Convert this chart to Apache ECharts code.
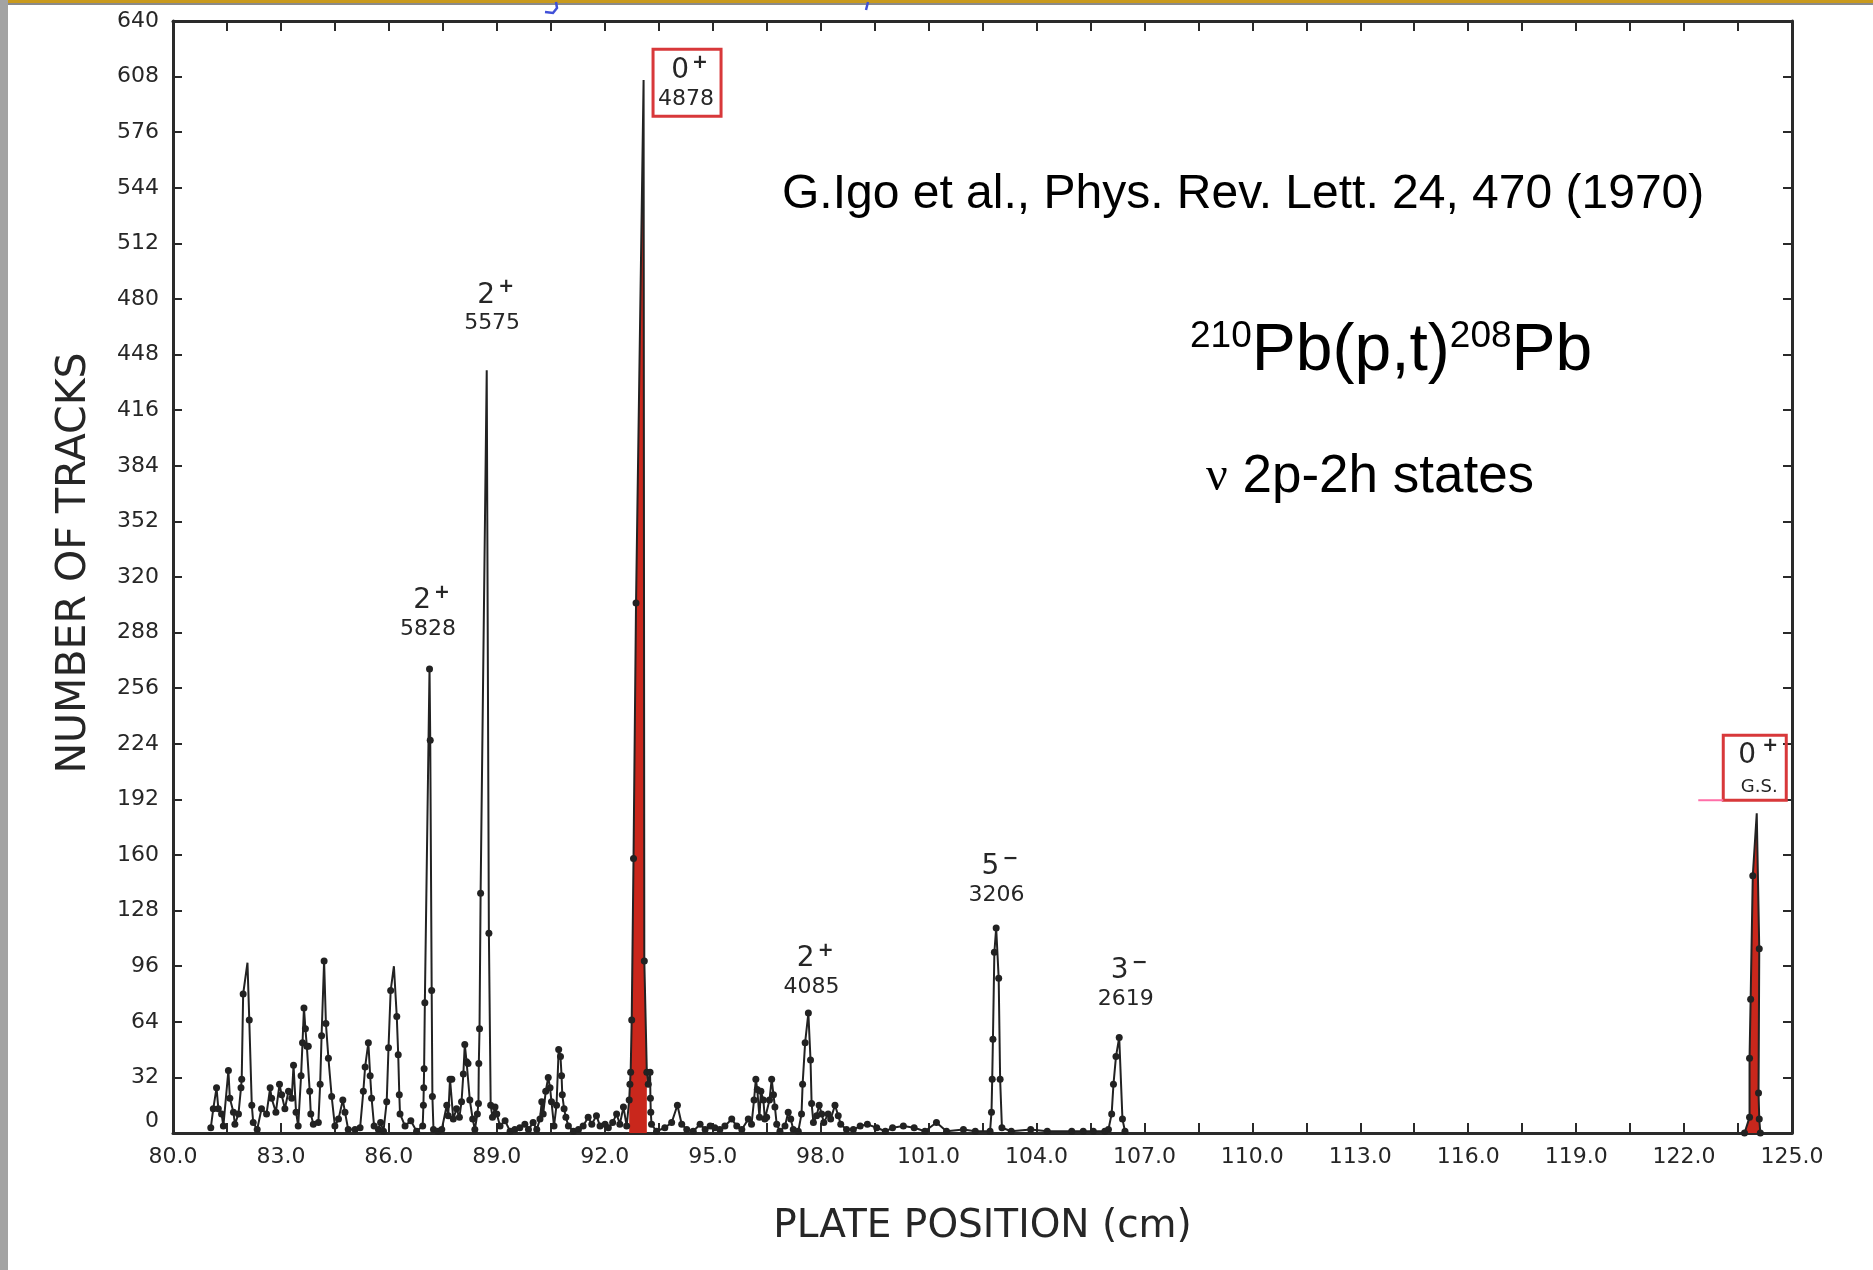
<!DOCTYPE html>
<html>
<head>
<meta charset="utf-8">
<script src="https://cdn.jsdelivr.net/npm/echarts@6/dist/echarts.min.js"></script>
<style>
  html, body { margin: 0; padding: 0; background: #ffffff; }
  #chart { width: 1873px; height: 1270px; }
</style>
</head>
<body>
<div id="chart"></div>
<script>
// Track counts along the plate: main run from 81 cm to the 2619 keV group
const plateCm = [
  81.05, 81.12, 81.21, 81.26, 81.35, 81.40, 81.54, 81.58, 81.68, 81.72,
  81.82, 81.89, 81.91, 81.95, 82.07, 82.12, 82.19, 82.23, 82.34, 82.46,
  82.60, 82.70, 82.74, 82.86, 82.96, 83.02, 83.11, 83.21, 83.30, 83.35,
  83.42, 83.48, 83.56, 83.60, 83.64, 83.68, 83.72, 83.76, 83.80, 83.83,
  83.90, 84.04, 84.09, 84.13, 84.20, 84.25, 84.32, 84.41, 84.50, 84.60,
  84.72, 84.78, 84.87, 85.06, 85.20, 85.29, 85.34, 85.43, 85.48, 85.52,
  85.59, 85.71, 85.77, 85.85, 85.94, 85.99, 86.05, 86.14, 86.22, 86.26,
  86.29, 86.31, 86.45, 86.61, 86.77, 86.94, 86.96, 86.97, 86.98, 87.00,
  87.13, 87.15, 87.19, 87.21, 87.24, 87.37, 87.47, 87.61, 87.65, 87.70,
  87.75, 87.79, 87.88, 87.96, 88.02, 88.07, 88.11, 88.16, 88.20, 88.25,
  88.33, 88.39, 88.46, 88.49, 88.50, 88.52, 88.55, 88.72, 88.78, 88.83,
  88.88, 88.95, 89.00, 89.09, 89.23, 89.37, 89.50, 89.64, 89.78, 89.88,
  90.01, 90.11, 90.20, 90.25, 90.29, 90.36, 90.43, 90.48, 90.52, 90.59,
  90.66, 90.72, 90.77, 90.80, 90.82, 90.87, 90.92, 90.99, 91.13, 91.27,
  91.40, 91.54, 91.64, 91.77, 91.87, 92.01, 92.10, 92.22, 92.33, 92.42,
  92.52, 92.61, 92.68, 92.70, 92.72, 92.75, 92.80, 92.87, 93.08, 93.10,
  93.17, 93.21, 93.26, 93.27, 93.28, 93.30, 93.44, 93.67, 93.86, 94.02,
  94.14, 94.28, 94.46, 94.65, 94.79, 94.93, 95.06, 95.20, 95.34, 95.53,
  95.67, 95.81, 95.99, 96.08, 96.15, 96.20, 96.24, 96.30, 96.34, 96.41,
  96.45, 96.50, 96.58, 96.64, 96.69, 96.73, 96.78, 96.87, 97.01, 97.10,
  97.17, 97.24, 97.38, 97.47, 97.50, 97.57, 97.66, 97.72, 97.75, 97.80,
  97.89, 97.96, 98.03, 98.09, 98.21, 98.28, 98.40, 98.49, 98.56, 98.72,
  98.91, 99.10, 99.30, 99.56, 99.80, 100.00, 100.30, 100.60, 100.90, 101.22,
  101.50, 101.97, 102.30, 102.71, 102.75, 102.77, 102.79, 102.83, 102.88, 102.95,
  102.99, 103.04, 103.30, 103.84, 104.30, 104.98, 105.30, 105.58, 105.90, 106.00,
  106.09, 106.14, 106.21, 106.30, 106.39, 106.46
];
const tracks = [
  3, 14, 26, 14, 11, 4, 36, 20, 12, 5,
  11, 26, 31, 80, 98, 65, 16, 6, 2, 14,
  11, 26, 20, 12, 28, 22, 14, 24, 20, 39,
  12, 4, 33, 52, 72, 60, 50, 50, 24, 11,
  5, 6, 28, 56, 99, 63, 43, 21, 4, 8,
  19, 12, 2, 2, 3, 24, 38, 52, 33, 20,
  4, 2, 6, 1, 18, 49, 82, 96, 67, 45,
  22, 11, 4, 7, 1, 4, 16, 26, 37, 75,
  267, 226, 82, 21, 2, 1, 2, 16, 10, 31,
  31, 8, 14, 9, 18, 34, 51, 41, 40, 19,
  8, 2, 11, 17, 40, 60, 138, 439, 115, 16,
  9, 15, 11, 4, 7, 1, 2, 3, 5, 2,
  6, 2, 8, 18, 11, 24, 32, 26, 18, 4,
  16, 48, 44, 33, 22, 14, 9, 4, 1, 2,
  4, 9, 5, 10, 4, 5, 3, 6, 11, 5,
  15, 4, 19, 28, 35, 65, 158, 305, 606, 99,
  35, 28, 35, 20, 12, 5, 1, 3, 6, 16,
  5, 2, 1, 5, 2, 4, 3, 2, 4, 8,
  4, 2, 8, 5, 19, 31, 25, 9, 24, 19,
  8, 9, 19, 31, 22, 15, 5, 1, 4, 12,
  8, 2, 1, 11, 28, 52, 69, 42, 17, 6,
  10, 16, 11, 6, 11, 8, 16, 10, 5, 2,
  2, 4, 5, 3, 1, 3, 4, 3, 1, 6,
  1, 2, 1, 1, 12, 31, 54, 104, 118, 89,
  31, 3, 1, 2, 1, 1, 1, 1, 1, 2,
  11, 28, 44, 55, 8, 1
];
// Ground-state group near the end of the plate
const gsCm     = [123.68, 123.82, 123.82, 123.85, 123.91, 124.02, 124.09, 124.07, 124.09, 124.12];
const gsTracks = [0, 9, 43, 77, 148, 184, 106, 23, 8, 0];

// Peak tops drawn as bare line apexes (no marker)
const bareTops = [82.07, 86.14, 88.72, 93.08, 124.02];

// Range of the 4878 keV 0+ peak that is shaded
const shadedRange = [92.66, 93.20];

// Axis scales
const xMin = 80, xMax = 125, xStep = 3;
const yMin = 0, yMax = 640, yStep = 32;

// Level labels: spin/parity and excitation energy (keV), anchored at the energy text
const levelLabels = [
  { spin: '2', sign: '+',      energy: '5828', x: 87.09,  y: 290 },
  { spin: '2', sign: '+',      energy: '5575', x: 88.87,  y: 466 },
  { spin: '0', sign: '+',      energy: '4878', x: 94.26,  y: 595, boxed: true },
  { spin: '5', sign: '\u2212', energy: '3206', x: 102.89, y: 137 },
  { spin: '2', sign: '+',      energy: '4085', x: 97.75,  y: 84 },
  { spin: '3', sign: '\u2212', energy: '2619', x: 106.48, y: 77 },
  { spin: '0', sign: '+',      energy: 'G.S.', x: 124.09, y: 199, boxed: true, small: true }
];

const ink = '#222222';
const axisInk = '#2a2a2a';
const textInk = '#262626';
const figFont = 'DejaVu Sans';
const slideFont = 'Liberation Sans, Arial, sans-serif';
const highlight = '#c9271c';

function pairs(xs, ys) {
  return xs.map((x, i) => {
    const item = { value: [x, ys[i]] };
    if (bareTops.indexOf(x) >= 0) item.symbolSize = 0;
    return item;
  });
}
const mainData = pairs(plateCm, tracks);
const gsData = pairs(gsCm, gsTracks);
const shadedData = plateCm
  .map((x, i) => [x, tracks[i]])
  .filter(p => p[0] >= shadedRange[0] && p[0] <= shadedRange[1]);
const gsShaded = gsCm.map((x, i) => [x, gsTracks[i]]);

const chart = echarts.init(document.getElementById('chart'));

const frameLine = { show: true, onZero: false, lineStyle: { color: axisInk, width: 3 } };
const tickStyle = { color: axisInk, width: 2 };

const option = {
  animation: false,
  backgroundColor: '#ffffff',
  grid: { left: 173, right: 81, top: 21, bottom: 137, containLabel: false },
  xAxis: [
    {
      type: 'value', min: xMin, max: xMax, interval: xStep, position: 'bottom',
      axisLine: frameLine,
      axisTick: { show: true, inside: true, length: 10, lineStyle: tickStyle },
      minorTick: { show: true, splitNumber: 2, length: 10, lineStyle: tickStyle },
      splitLine: { show: false }, minorSplitLine: { show: false },
      axisLabel: {
        formatter: v => v.toFixed(1), fontFamily: figFont, fontSize: 22,
        color: textInk, margin: 13
      },
      name: 'PLATE POSITION (cm)', nameLocation: 'middle', nameGap: 74,
      nameTextStyle: { fontFamily: figFont, fontSize: 39, color: textInk }
    },
    {
      type: 'value', min: xMin, max: xMax, interval: xStep, position: 'top',
      axisLine: frameLine,
      axisTick: { show: true, inside: true, length: 10, lineStyle: tickStyle },
      minorTick: { show: true, splitNumber: 2, length: 10, lineStyle: tickStyle },
      splitLine: { show: false }, minorSplitLine: { show: false },
      axisLabel: { show: false }
    }
  ],
  yAxis: [
    {
      type: 'value', min: yMin, max: yMax, interval: yStep, position: 'left',
      axisLine: frameLine,
      axisTick: { show: true, inside: true, length: 9, lineStyle: tickStyle },
      splitLine: { show: false },
      axisLabel: {
        fontFamily: figFont, fontSize: 22, color: textInk, margin: 14,
        formatter: v => (v === 0 ? '{zero|0}' : String(v)),
        rich: { zero: { fontFamily: figFont, fontSize: 22, color: textInk, padding: [0, 0, 24, 0] } }
      },
      name: 'NUMBER OF TRACKS', nameLocation: 'middle', nameGap: 78,
      nameTextStyle: { fontFamily: figFont, fontSize: 41, color: textInk, padding: [0, 0, 0, 28] }
    },
    {
      type: 'value', min: yMin, max: yMax, interval: yStep, position: 'right',
      axisLine: frameLine,
      axisTick: { show: true, inside: true, length: 9, lineStyle: tickStyle },
      splitLine: { show: false },
      axisLabel: { show: false }
    }
  ],
  series: [
    {
      name: '4878 shading', type: 'line', data: shadedData, z: 2,
      symbol: 'none', lineStyle: { width: 0 },
      areaStyle: { color: highlight, opacity: 1 }
    },
    {
      name: 'g.s. shading', type: 'line', data: gsShaded, z: 2,
      symbol: 'none', lineStyle: { width: 0 },
      areaStyle: { color: highlight, opacity: 1 }
    },
    {
      name: 'tracks', type: 'line', data: mainData, z: 3,
      symbol: 'circle', symbolSize: 7, showAllSymbol: true,
      itemStyle: { color: ink }, lineStyle: { color: ink, width: 2 }
    },
    {
      name: 'g.s. tracks', type: 'line', data: gsData, z: 3,
      symbol: 'circle', symbolSize: 7, showAllSymbol: true,
      itemStyle: { color: ink }, lineStyle: { color: ink, width: 2 }
    }
  ]
};
chart.setOption(option);

// Level labels and slide annotations
const graphics = [];
// slide edge decorations
graphics.push({ type: 'rect', shape: { x: 0, y: 0, width: 1873, height: 3 }, style: { fill: '#c99a1d' }, z: 10 });
graphics.push({ type: 'rect', shape: { x: 0, y: 3, width: 1873, height: 2 }, style: { fill: '#8a8a8a' }, z: 10 });
graphics.push({ type: 'rect', shape: { x: 0, y: 0, width: 8, height: 1270 }, style: { fill: '#a3a3a3' }, z: 11 });

levelLabels.forEach(l => {
  const p = chart.convertToPixel({ xAxisIndex: 0, yAxisIndex: 0 }, [l.x, l.y]);
  const ex = p[0], ey = p[1];
  graphics.push({
    type: 'text', x: ex, y: ey, z: 20,
    style: { text: l.energy, fontFamily: figFont, fontSize: l.small ? 18 : 22, fill: textInk, align: 'center', verticalAlign: 'middle' }
  });
  graphics.push({
    type: 'text', x: ex + (l.small ? -12 : -6), y: ey + (l.small ? -32 : -28), z: 20,
    style: { text: l.spin, fontFamily: figFont, fontSize: 28, fill: textInk, align: 'center', verticalAlign: 'middle' }
  });
  graphics.push({
    type: 'text', x: ex + (l.small ? 11 : 14), y: ey + (l.small ? -41 : -36), z: 20,
    style: { text: l.sign, fontFamily: figFont, fontSize: 19, fontWeight: 'bold', fill: textInk, align: 'center', verticalAlign: 'middle' }
  });
  if (l.boxed) {
    const b = l.small ? { x: -36, y: -52, w: 63, h: 65 } : { x: -33, y: -50, w: 68, h: 67 };
    graphics.push({
      type: 'rect', z: 21,
      shape: { x: ex + b.x, y: ey + b.y, width: b.w, height: b.h },
      style: { fill: 'none', stroke: '#d8383a', lineWidth: 3 }
    });
    if (l.small) {
      graphics.push({
        type: 'line', z: 21,
        shape: { x1: ex + b.x - 25, y1: ey + b.y + b.h, x2: ex + b.x, y2: ey + b.y + b.h },
        style: { stroke: '#ff6fa8', lineWidth: 2 }
      });
    }
  }
});

// reference and reaction text
graphics.push({
  type: 'text', x: 782, y: 195, z: 20,
  style: { text: 'G.Igo et al., Phys. Rev. Lett. 24, 470 (1970)', fontFamily: slideFont, fontSize: 48, fill: '#000000', align: 'left', verticalAlign: 'middle' }
});
graphics.push({
  type: 'text', x: 1190, y: 352, z: 20,
  style: {
    text: '{s|210}{m|Pb(p,t)}{s|208}{m|Pb}',
    align: 'left', verticalAlign: 'middle',
    rich: {
      s: { fontFamily: slideFont, fontSize: 37, fill: '#000000', verticalAlign: 'top', lineHeight: 68 },
      m: { fontFamily: slideFont, fontSize: 66, fill: '#000000', lineHeight: 68 }
    }
  }
});
graphics.push({
  type: 'text', x: 1206, y: 477, z: 20,
  style: {
    text: '{g|\u03bd}{t| 2p-2h states}',
    align: 'left', verticalAlign: 'middle',
    rich: {
      g: { fontFamily: 'Liberation Serif, serif', fontSize: 48, fill: '#000000' },
      t: { fontFamily: slideFont, fontSize: 53, fill: '#000000' }
    }
  }
});
// pen marks at the top edge
graphics.push({
  type: 'polyline', z: 20,
  shape: { points: [[556, 2], [557, 8], [553, 13], [545, 12]] },
  style: { stroke: '#4050d8', lineWidth: 2.5, fill: 'none' }
});
graphics.push({
  type: 'line', z: 20,
  shape: { x1: 868, y1: 2, x2: 866, y2: 10 },
  style: { stroke: '#4050d8', lineWidth: 2.5 }
});

chart.setOption({ graphic: graphics });
</script>
</body>
</html>
